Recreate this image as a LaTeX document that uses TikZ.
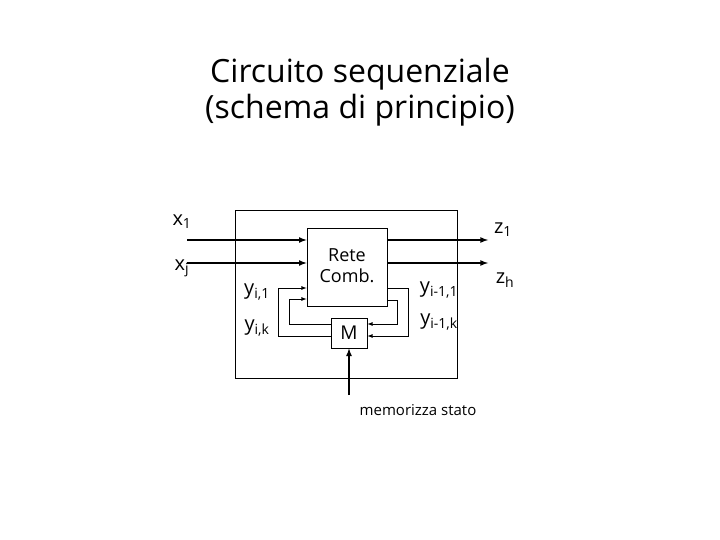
\documentclass[tikz,border=0pt]{standalone}
\usepackage{fontspec}
\setmainfont{Open Sans}
\begin{document}
\begin{tikzpicture}[x=1pt,y=-1pt,
  box/.style={draw,line width=0.8pt},
  sig/.style={line width=1.6pt,-latex},
  fb/.style={line width=0.8pt,-latex},
  lbl/.style={font=\fontsize{20}{22}\selectfont},
  title/.style={font=\fontsize{32}{36}\selectfont,align=center}]
\useasboundingbox (0,0) rectangle (720,540);
\node[title] (t) at (360,92) {Circuito sequenziale\\(schema di principio)};
\draw[box] (235,210) rectangle (457,378);
\node[box,minimum width=80pt,minimum height=78pt,inner sep=0pt] (rc) at (347,267) {};
\node[font=\fontsize{18}{21}\selectfont,align=center] (rct) at (347,266) {Rete\\Comb.};
\node[box,minimum width=36pt,minimum height=30pt,inner sep=0pt] (m) at (349,333) {\fontsize{19}{21}\selectfont M};
\coordinate (x1s) at (187,240); \coordinate (xjs) at (187,263);
\coordinate (z1e) at (488,240); \coordinate (zhe) at (488,263);
\draw[sig] (x1s) -- (x1s -| rc.west);
\draw[sig] (xjs) -- (xjs -| rc.west);
\draw[sig] (x1s -| rc.east) -- (z1e);
\draw[sig] (xjs -| rc.east) -- (zhe);
\draw[fb] (m.west |- 0,336) -- (278,336) -- (278,288) -- (rc.west |- 0,288);
\draw[fb] (m.west |- 0,324) -- (289,324) -- (289,299) -- (rc.west |- 0,299);
\draw[fb] (rc.east |- 0,288) -- (408,288) -- (408,336) -- (m.east |- 0,336);
\draw[fb] (rc.east |- 0,300) -- (397,300) -- (397,324) -- (m.east |- 0,324);
\coordinate (ms) at (349,395);
\draw[sig] (ms) -- (m.south);
\node[lbl] (lx1) at (182,222) {x\textsubscript{1}};
\node[lbl] (lxj) at (182,268) {x\textsubscript{j}};
\node[lbl] (lz1) at (503,230) {z\textsubscript{1}};
\node[lbl] (lzh) at (505,280) {z\textsubscript{h}};
\node[lbl] (ly1) at (257,292) {y\textsubscript{i,1}};
\node[lbl] (lyk) at (257,328) {y\textsubscript{i,k}};
\node[lbl] (lyy1) at (439,290) {y\textsubscript{i-1,1}};
\node[lbl] (lyyk) at (439,322) {y\textsubscript{i-1,k}};
\node[font=\fontsize{15}{17}\selectfont] (mem) at (418,410) {memorizza stato};
\end{tikzpicture}
\end{document}
